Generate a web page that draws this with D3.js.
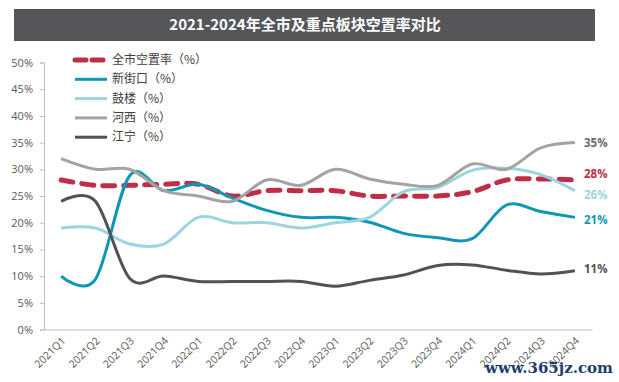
<!DOCTYPE html>
<html>
<head>
<meta charset="utf-8">
<script src="https://cdn.jsdelivr.net/npm/d3@7/dist/d3.min.js"></script>
<style>
  body { margin: 0; background: #fff; }
  text { font-family: "Noto Sans CJK SC", "Noto Sans", sans-serif; }
</style>
</head>
<body>
<svg id="chart" width="619" height="382"></svg>
<script>
// quarters on the x axis
var quarters = ["2021Q1","2021Q2","2021Q3","2021Q4","2022Q1","2022Q2","2022Q3","2022Q4",
                "2023Q1","2023Q2","2023Q3","2023Q4","2024Q1","2024Q2","2024Q3","2024Q4"];

// vacancy rates (%)
var cityRate   = [28, 27, 27, 27.2, 27.2, 25, 26, 26, 26, 25, 25, 25, 25.8, 28, 28.2, 28];
var xinjiekou  = [10, 9.4, 28.8, 26, 27.2, 24.6, 22.3, 21, 21, 20.1, 18, 17.2, 17, 23.3, 22.1, 21];
var gulou      = [19, 19, 16, 16, 21, 20, 20, 19, 20, 21, 25.8, 26.6, 29.8, 30.2, 29, 26];
var hexi       = [32, 30, 30, 26, 25, 24, 28, 27, 30, 28.2, 27.2, 27, 31, 30, 34, 35];
var jiangning  = [24, 24, 9.6, 10, 9, 9, 9, 9, 8.1, 9.2, 10.2, 12, 12.1, 11.1, 10.4, 11];

var seriesNames  = ["全市空置率（%）", "新街口（%）", "鼓楼（%）", "河西（%）", "江宁（%）"];
var seriesValues = [cityRate, xinjiekou, gulou, hexi, jiangning];
var seriesColors = ["#be2f47", "#0e97b5", "#9dd4df", "#a3a3a3", "#505256"];
var endLabelColors = ["#be2f47", "#0e97b5", "#9dd4df", "#6b6b6b", "#505256"];
// nudge end labels apart like the original (px)
var endLabelShift = [-6, 3, 4, 0, -1.5];

var yTicks = [0, 5, 10, 15, 20, 25, 30, 35, 40, 45, 50];

var svg = d3.select("#chart");

// title bar
svg.append("rect")
    .attr("x", 14).attr("y", 9)
    .attr("width", 581).attr("height", 32)
    .attr("fill", "#54565a");
svg.append("text")
    .attr("x", 305).attr("y", 30)
    .attr("text-anchor", "middle")
    .attr("fill", "#fff")
    .attr("font-size", 15)
    .attr("font-weight", "bold")
    .text("2021-2024年全市及重点板块空置率对比");

var plotLeft = 44, plotRight = 592, plotTop = 62.5, plotBottom = 329.5;

var x = d3.scaleBand().domain(quarters).range([plotLeft, plotRight]);
var y = d3.scaleLinear().domain([0, 50]).range([plotBottom, plotTop]);

// y axis
var yAxis = svg.append("g")
    .attr("transform", `translate(${plotLeft},0)`)
    .call(d3.axisLeft(y).tickValues(yTicks).tickSize(4).tickPadding(7).tickFormat(d => d + "%"));
yAxis.select(".domain").attr("stroke", "#bfbfbf");
yAxis.selectAll(".tick line").attr("stroke", "#bfbfbf");
yAxis.selectAll("text").attr("fill", "#595959").attr("font-size", 11)
    .style("font-family", "'Open Sans', 'Noto Sans', sans-serif");

// x axis
var xAxis = svg.append("g")
    .attr("transform", `translate(0,${plotBottom})`)
    .call(d3.axisBottom(x).tickSize(0).tickPadding(0));
xAxis.select(".domain").attr("stroke", "#bfbfbf");
xAxis.selectAll("text")
    .attr("fill", "#595959").attr("font-size", 10.5)
    .style("font-family", "'Open Sans', 'Noto Sans', sans-serif")
    .attr("text-anchor", "end")
    .attr("dy", 0)
    .attr("transform", "translate(5,12) rotate(-45)");

var line = d3.line()
    .x((d, i) => x(quarters[i]) + x.bandwidth() / 2)
    .y(d => y(d))
    .curve(d3.curveCatmullRom.alpha(0));

seriesValues.forEach((vals, k) => {
    var p = svg.append("path")
        .attr("d", line(vals))
        .attr("fill", "none")
        .attr("stroke", seriesColors[k])
        .attr("stroke-width", k === 0 ? 5 : 3);
    if (k === 0) p.attr("stroke-dasharray", "12,9").attr("stroke-linecap", "round");

    // end label
    svg.append("text")
        .attr("x", 584)
        .attr("y", y(vals[vals.length - 1]) + 4 + endLabelShift[k])
        .attr("fill", endLabelColors[k])
        .attr("font-size", 11.5)
        .attr("font-weight", "bold")
        .style("font-family", "'Open Sans', 'Noto Sans', sans-serif")
        .text(Math.round(vals[vals.length - 1]) + "%");
});

// legend
var legend = svg.append("g");
seriesNames.forEach((name, k) => {
    var ly = 60 + k * 19.3;
    var l = legend.append("line")
        .attr("x1", 75).attr("x2", 107)
        .attr("y1", ly).attr("y2", ly)
        .attr("stroke", seriesColors[k])
        .attr("stroke-width", k === 0 ? 5 : 3);
    if (k === 0) l.attr("stroke-dasharray", "11,6").attr("stroke-linecap", "round");
    legend.append("text")
        .attr("x", 112).attr("y", ly + 4)
        .attr("fill", "#404040")
        .attr("font-size", 12)
        .text(name);
});

// watermark
svg.append("text")
    .attr("x", 613).attr("y", 373)
    .attr("text-anchor", "end")
    .attr("fill", "#1d3d6e")
    .attr("font-size", 15)
    .attr("font-weight", "bold")
    .style("font-family", "'DejaVu Serif', 'Liberation Serif', serif")
    .text("www.365jz.com");
</script>
</body>
</html>
